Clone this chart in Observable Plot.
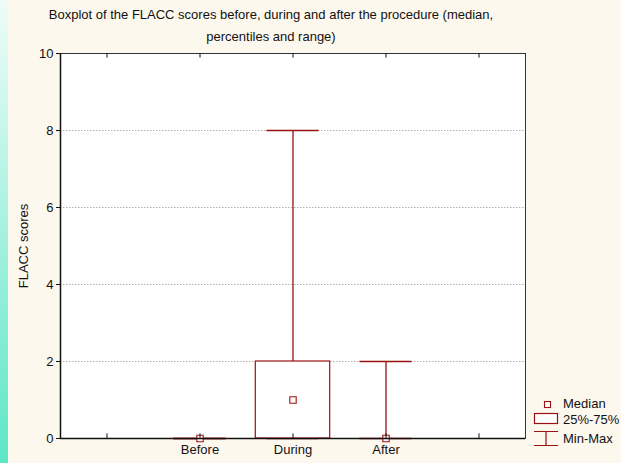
<!DOCTYPE html>
<html><head><meta charset="utf-8">
<script src="https://cdn.jsdelivr.net/npm/d3@7"></script>
<script src="https://cdn.jsdelivr.net/npm/@observablehq/plot@0.6"></script>
<style>
body{margin:0;padding:0;}
#wrap{position:relative;width:621px;height:463px;background:#fdf8ee;overflow:hidden;font-family:"Liberation Sans",Arial,sans-serif;}
#strip{position:absolute;left:0;top:0;width:8px;height:463px;background:linear-gradient(#eefcf8,#5de6c6);}
#title{position:absolute;left:0;width:542px;text-align:center;font-size:13px;color:#111;line-height:22px;top:4px;white-space:nowrap;}
#chart{position:absolute;left:0;top:0;}
.lg{position:absolute;font-size:13px;color:#111;white-space:nowrap;}
</style></head>
<body>
<div id="wrap"><div id="strip"></div><div id="chart"></div>
<div id="title">Boxplot of the FLACC scores before, during and after the procedure (median,<br>percentiles and range)</div>
<svg id="legicons" width="621" height="463" style="position:absolute;left:0;top:0;"></svg>
</div>
<script>
const categories = ["Before", "During", "After"];
const slots = [2, 3, 4];
const mins = [0, 0, 0];
const q1s = [0, 0, 0];
const medians = [0, 1, 0];
const q3s = [0, 2, 0];
const maxs = [0, 8, 2];
const yTicks = [0, 2, 4, 6, 8, 10];
const xTicks = [1, 2, 3, 4, 5];
const legendLabels = ["Median", "25%-75%", "Min-Max"];

const red = "#9b1010";
const rows = categories.map((c, i) => ({c, pos: slots[i], min: mins[i], q1: q1s[i], med: medians[i], q3: q3s[i], max: maxs[i]}));
const label = t => { const i = slots.indexOf(t); return i >= 0 ? categories[i] : ""; };

const chart = Plot.plot({
  width: 621, height: 463,
  marginLeft: 60, marginRight: 96, marginTop: 53, marginBottom: 25,
  style: {background: "transparent", fontFamily: "'Liberation Sans', Arial, sans-serif", fontSize: "13px", color: "#111"},
  x: {type: "linear", domain: [0.5, 5.5]},
  y: {domain: [0, 10]},
  marks: [
    Plot.frame({fill: "white", stroke: "none"}),
    Plot.ruleY([2, 4, 6, 8], {stroke: "#b0b0b0", strokeDasharray: "1.5,1.5"}),
    Plot.ruleX(rows, {x: "pos", y1: "min", y2: "max", stroke: red, strokeWidth: 1.3}),
    Plot.ruleY(rows, {x1: d => d.pos - 0.28, x2: d => d.pos + 0.28, y: "max", stroke: red, strokeWidth: 1.3}),
    Plot.ruleY(rows, {x1: d => d.pos - 0.28, x2: d => d.pos + 0.28, y: "min", stroke: red, strokeWidth: 1.3}),
    Plot.rect(rows, {x1: d => d.pos - 0.4, x2: d => d.pos + 0.4, y1: "q1", y2: "q3", fill: "white", stroke: red, strokeWidth: 1.2}),
    Plot.dot(rows, {x: "pos", y: "med", symbol: "square", r: 3.6, fill: "white", stroke: red, strokeWidth: 1.1}),
    Plot.frame({stroke: "#333", strokeWidth: 1}),
    Plot.ruleX([0.5], {stroke: "#111", strokeWidth: 1.5}),
    Plot.ruleY([0], {stroke: "#111", strokeWidth: 1.5}),
    Plot.axisY({ticks: yTicks, tickSize: 4, tickPadding: 3, fontSize: 13, label: "FLACC scores", labelAnchor: "center", labelArrow: "none", labelOffset: 42}),
    Plot.axisX({ticks: xTicks, tickFormat: label, tickSize: 0, tickPadding: 6, fontSize: 13, label: null}),
    Plot.ruleX(xTicks, {x: d => d, y1: 0, y2: 0.12, stroke: "#111"}),
    Plot.ruleX(xTicks, {x: d => d, y1: 9.88, y2: 10, stroke: "#111"})
  ]
});
document.getElementById("chart").append(chart);

const wrap = document.getElementById("wrap");
const icons = document.getElementById("legicons");
icons.innerHTML =
  `<rect x="544.5" y="401.5" width="6" height="6" fill="white" stroke="${red}" stroke-width="1.1"/>` +
  `<rect x="534.5" y="413.5" width="23" height="10" fill="white" stroke="${red}" stroke-width="1.2"/>` +
  `<path d="M534,431.5H558M546,431.5V445.5M534,445.5H558" stroke="${red}" stroke-width="1.2" fill="none"/>`;
const legY = [404, 420, 439];
legendLabels.forEach((t, i) => {
  const d = document.createElement("div");
  d.className = "lg";
  d.style.left = "563px";
  d.style.top = (legY[i] - 8) + "px";
  d.textContent = t;
  wrap.append(d);
});
</script>
</body></html>
